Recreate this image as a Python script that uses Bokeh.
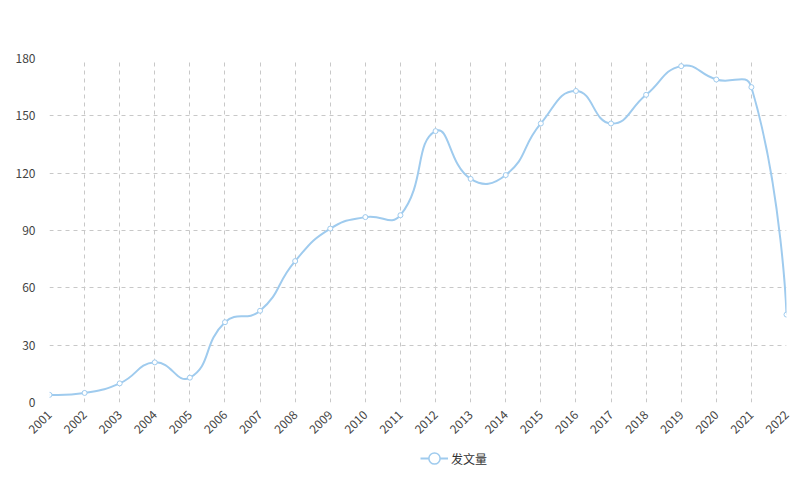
import numpy as np
from bokeh.plotting import figure
from bokeh.layouts import column
from bokeh.models import ColumnDataSource, FixedTicker, Legend, LegendItem
from bokeh.embed import file_html
from bokeh.resources import INLINE

years = [2001, 2002, 2003, 2004, 2005, 2006, 2007, 2008, 2009, 2010, 2011,
         2012, 2013, 2014, 2015, 2016, 2017, 2018, 2019, 2020, 2021, 2022]
counts = [4, 5, 10, 21, 13, 42, 48, 74, 91, 97, 98,
          142, 117, 119, 146, 163, 146, 161, 176, 169, 165, 46]
y_ticks = [0, 30, 60, 90, 120, 150, 180]
series_name = "发文量"

COLOR = "#9fcbee"
W, H = 810, 445
ML, MR, MT, MB = 49, 24, 58, 43
FW, FH = W - ML - MR, H - MT - MB
x0, x1 = years[0], years[-1]
y0, y1 = 0, 180

# smooth curve (Bezier control points computed in screen space, smooth = 0.5)
sx = FW / (x1 - x0)
sy = FH / (y1 - y0)
P = np.array([[(x - x0) * sx, (y - y0) * sy] for x, y in zip(years, counts)])
n = len(P)
smooth = 0.5
cin = [None] * n
cout = [None] * n
cout[0] = P[0].copy()
cin[-1] = P[-1].copy()
for i in range(1, n - 1):
    v = (P[i + 1] - P[i - 1]) * smooth
    d0 = np.linalg.norm(P[i] - P[i - 1])
    d1 = np.linalg.norm(P[i + 1] - P[i])
    s = d0 + d1
    d0, d1 = d0 / s, d1 / s
    cin[i] = P[i] - v * d0
    cout[i] = P[i] + v * d1


def to_data(pt):
    return pt[0] / sx + x0, pt[1] / sy + y0


bz = dict(x0=[], y0=[], x1=[], y1=[], cx0=[], cy0=[], cx1=[], cy1=[])
for i in range(n - 1):
    a, b = to_data(P[i]), to_data(P[i + 1])
    c0, c1 = to_data(cout[i]), to_data(cin[i + 1])
    bz["x0"].append(a[0]); bz["y0"].append(a[1])
    bz["x1"].append(b[0]); bz["y1"].append(b[1])
    bz["cx0"].append(c0[0]); bz["cy0"].append(c0[1])
    bz["cx1"].append(c1[0]); bz["cy1"].append(c1[1])

p = figure(width=W, height=H, output_backend="svg", toolbar_location=None,
           x_range=(x0, x1), y_range=(y0, y1),
           min_border_left=ML, min_border_right=MR, min_border_top=MT,
           min_border_bottom=MB)
p.outline_line_color = None
p.background_fill_color = "white"
p.border_fill_color = "white"

curve = p.bezier(x0="x0", y0="y0", x1="x1", y1="y1", cx0="cx0", cy0="cy0",
                 cx1="cx1", cy1="cy1", source=ColumnDataSource(bz),
                 line_color=COLOR, line_width=2)
pts = p.scatter(x=years, y=counts, marker="circle", size=5,
                fill_color="white", line_color=COLOR, line_width=1)

p.xaxis.ticker = FixedTicker(ticks=years)
p.yaxis.ticker = FixedTicker(ticks=y_ticks)
for ax in (p.xaxis[0], p.yaxis[0]):
    ax.axis_line_color = None
    ax.major_tick_line_color = None
    ax.minor_tick_line_color = None
    ax.major_label_text_font = "Noto Sans CJK SC"
    ax.major_label_text_font_size = "12px"
    ax.major_label_text_color = "#444444"
p.xaxis.major_label_orientation = 0.785398
p.xaxis.major_label_standoff = 4
p.yaxis.major_label_standoff = 8

p.xgrid.ticker = FixedTicker(ticks=years)
p.ygrid.ticker = FixedTicker(ticks=y_ticks)
for g in (p.xgrid[0], p.ygrid[0]):
    g.grid_line_color = "#c8c8c8"
    g.grid_line_dash = "4 4"
    g.grid_line_width = 1

# legend strip below the chart (its frame is aligned with the chart's frame)
LH = 52
pl = figure(width=W, height=LH, output_backend="svg", toolbar_location=None,
            x_range=(0, 1), y_range=(0, 1), min_border=0,
            x_axis_location=None, y_axis_location=None)
pl.grid.visible = False
pl.outline_line_color = None
pl.background_fill_color = "white"
pl.border_fill_color = "white"
leg_line = pl.line(x=[np.nan], y=[np.nan], line_color=COLOR, line_width=2)
leg_pt = pl.scatter(x=[np.nan], y=[np.nan], marker="circle", size=12,
                    fill_color="white", line_color=COLOR, line_width=1.5)
legend = Legend(items=[LegendItem(label=series_name, renderers=[leg_line, leg_pt])],
                location=(371, 24), orientation="horizontal",
                border_line_color=None, background_fill_alpha=0,
                padding=0, margin=0, glyph_width=28, glyph_height=30,
                label_height=30, label_text_font="Noto Sans CJK SC",
                label_text_font_size="12px", label_text_color="#333333",
                label_standoff=3)
pl.add_layout(legend, "center")

layout = column(p, pl, width=812, height=499,
                styles={"background-color": "white"})

open("out.html", "w").write(file_html(layout, INLINE))
